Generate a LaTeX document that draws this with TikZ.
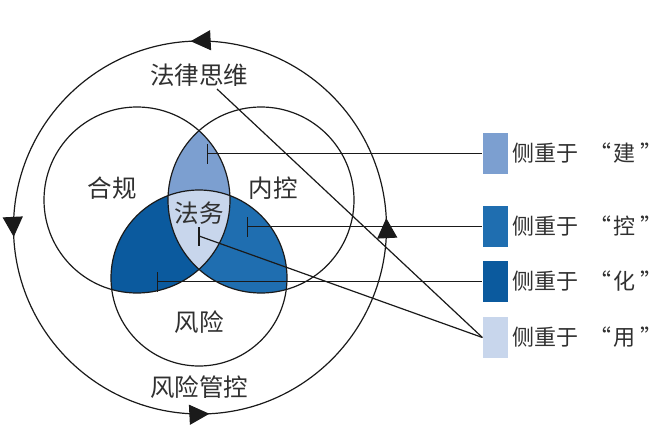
\documentclass[tikz,border=0pt]{standalone}
\usepackage{fontspec}
\newfontfamily\cjk{Noto Sans CJK SC}
\usetikzlibrary{arrows.meta,decorations.markings}
\definecolor{cJian}{HTML}{7C9FD0}
\definecolor{cKong}{HTML}{1F6EB0}
\definecolor{cHua}{HTML}{0B5A9E}
\definecolor{cYong}{HTML}{C8D6EC}
\definecolor{txt}{HTML}{303030}
\definecolor{ln}{HTML}{1A1A1A}
\newcommand{\legq}[1]{侧重于\hspace{11pt}“\hspace{2pt}#1\hspace{5pt}”}
\begin{document}
\begin{tikzpicture}[x=1pt,y=-1pt,line width=1.2pt,draw=ln,
  lbl/.style={font=\cjk\fontsize{24.5}{26}\selectfont,text=txt,inner sep=0pt},
  legtxt/.style={font=\cjk\fontsize{22}{24}\selectfont,text=txt,inner sep=0pt,anchor=west},
  legsq/.style={minimum width=25pt,minimum height=41pt,inner sep=0pt,draw=none},
  barline/.style={{Bar[width=20pt]}-}]
\useasboundingbox (0,0) rectangle (669,431);
\fill[white] (0,0) rectangle (669,431);
% fills
\begin{scope}
  \clip (137,200) circle[radius=93pt];
  \clip (261,200) circle[radius=93pt];
  \fill[cJian] (0,0) rectangle (669,431);
\end{scope}
\begin{scope}
  \clip (137,200) circle[radius=93pt];
  \clip (199,278) circle[radius=88pt];
  \fill[cHua] (0,0) rectangle (669,431);
\end{scope}
\begin{scope}
  \clip (261,200) circle[radius=93pt];
  \clip (199,278) circle[radius=88pt];
  \fill[cKong] (0,0) rectangle (669,431);
\end{scope}
\begin{scope}
  \clip (137,200) circle[radius=93pt];
  \clip (261,200) circle[radius=93pt];
  \clip (199,278) circle[radius=88pt];
  \fill[cYong] (0,0) rectangle (669,431);
\end{scope}
% circles
\draw (137,200) circle[radius=93pt];
\draw (261,200) circle[radius=93pt];
\draw (199,278) circle[radius=88pt];
% outer circle with arrows
\draw[postaction={decorate},decoration={markings,
  mark=at position 0.008 with {\arrow{Triangle[length=20pt,width=20pt]}},
  mark=at position 0.258 with {\arrow{Triangle[length=20pt,width=20pt]}},
  mark=at position 0.508 with {\arrow{Triangle[length=20pt,width=20pt]}},
  mark=at position 0.758 with {\arrow{Triangle[length=20pt,width=20pt]}}}]
  (200,227.5) circle[radius=186.5pt];
% labels
\node[lbl] (flsw) at (199,75) {法律思维};
\node[lbl] (hg) at (112,188) {合规};
\node[lbl] (nk) at (273,188) {内控};
\node[lbl] (fw) at (199,213) {法务};
\node[lbl] (fx) at (199,322) {风险};
\node[lbl] (fxgk) at (199,387) {风险管控};
% legend
\node[legsq,fill=cJian] (sqJian) at (495.5,153.5) {};
\node[legsq,fill=cKong] (sqKong) at (495.5,226.5) {};
\node[legsq,fill=cHua] (sqHua) at (495.5,281.5) {};
\node[legsq,fill=cYong] (sqYong) at (495.5,337.5) {};
\node[legtxt] (tJian) at (512,153.5) {\legq{建}};
\node[legtxt] (tKong) at (512,226.5) {\legq{控}};
\node[legtxt] (tHua) at (512,281.5) {\legq{化}};
\node[legtxt] (tYong) at (512,337.5) {\legq{用}};
% connectors
\coordinate (bJian) at (207,153.5);
\coordinate (bKong) at (247,226.5);
\coordinate (bHua) at (157,281.5);
\coordinate (bYong) at (199,236);
\coordinate (sFl) at (217,89);
\draw[barline] (bJian) -- (sqJian.west);
\draw[barline] (bKong) -- (sqKong.west);
\draw[barline] (bHua) -- (sqHua.west);
\draw (bYong) -- (sqYong.west);
\draw ([yshift=-9.5pt]bYong) -- ([yshift=9.5pt]bYong);
\draw (sFl) -- (sqYong.west);
\end{tikzpicture}
\end{document}
